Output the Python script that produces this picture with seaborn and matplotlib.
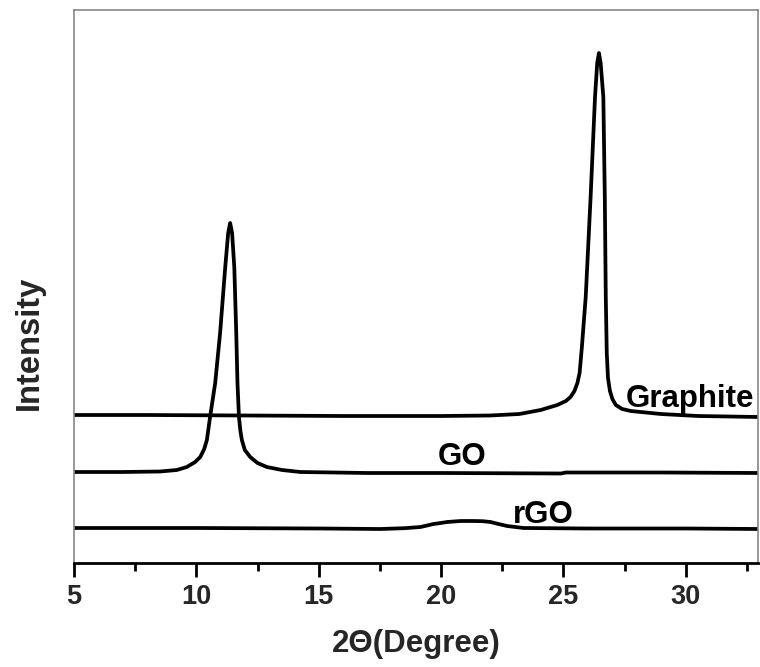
import matplotlib
matplotlib.use("Agg")
import matplotlib.pyplot as plt
import seaborn as sns
import pandas as pd
from matplotlib.ticker import MultipleLocator

# ---- data (intensity in arbitrary units) ----
graphite_x = [5, 8, 12, 16, 20, 22, 23.2, 24.07, 24.75, 25.1, 25.29, 25.45, 25.57,
              25.66, 25.75, 25.91, 26.11, 26.29, 26.38, 26.45, 26.52, 26.63, 26.69,
              26.73, 26.77, 26.82, 26.90, 27.0, 27.14, 27.4, 27.75, 28.98, 30.5, 33]
graphite_y = [148, 148, 147.5, 147, 147, 147.5, 149, 153, 158, 162, 166, 172, 180,
              190, 215, 266, 366, 466, 500, 510, 500, 466, 366,
              266, 210, 185, 172, 164, 158, 154, 152, 149, 147, 146]

go_x = [5, 7, 8.52, 9.2, 9.61, 9.95, 10.16, 10.32, 10.43, 10.56, 10.77, 10.97, 11.18,
        11.30, 11.38, 11.46, 11.55, 11.63, 11.68, 11.74, 11.80, 11.86, 11.98, 12.20,
        12.5, 12.88, 13.5, 14.25, 17, 20, 24.9, 25.1, 29, 33]
go_y = [91, 91, 91.5, 93, 96, 101, 106, 114, 123, 146, 180, 230, 296,
        330, 340, 330, 296, 230, 180, 146, 132, 123, 113, 106,
        100, 96, 93, 91, 90, 90, 89.5, 90.5, 90.5, 90]

rgo_x = [5, 10, 15, 17.52, 18.5, 19.16, 19.69, 19.98, 20.25, 20.8, 21.33, 21.7,
         22.02, 22.35, 22.70, 23.37, 26, 30, 33]
rgo_y = [35, 35, 34.5, 34, 34.8, 36, 39, 40, 41, 42, 42, 41.8,
         41, 39, 37, 35, 34.5, 34.5, 34]

labels = ["Graphite", "GO", "rGO"]
label_x = [30.16, 20.88, 24.19]
label_y = [164, 106, 48]

x_ticks = [5, 10, 15, 20, 25, 30]

# ---- figure ----
sns.set_theme(style="ticks")
plt.rcParams['font.family'] = ['Liberation Sans', 'DejaVu Sans']
plt.rcParams['font.weight'] = 'bold'

fig = plt.figure(figsize=(7.6, 6.67), dpi=100)
ax = fig.add_axes([74 / 760, 104 / 667, 684 / 760, 553 / 667])

frames = [
    pd.DataFrame({"x": graphite_x, "y": graphite_y, "s": "Graphite"}),
    pd.DataFrame({"x": go_x, "y": go_y, "s": "GO"}),
    pd.DataFrame({"x": rgo_x, "y": rgo_y, "s": "rGO"}),
]
for df in frames:
    sns.lineplot(data=df, x="x", y="y", ax=ax, color="black", linewidth=2.7,
                 estimator=None, sort=False)
for ln in ax.get_lines():
    ln.set_solid_joinstyle("round")
    ln.set_solid_capstyle("round")

for t, tx, ty in zip(labels, label_x, label_y):
    ax.text(tx, ty, t, ha="center", va="center", fontsize=22.5, fontweight="bold",
            color="black")

ax.set_xlim(5, 32.95)
ax.set_ylim(0, 553)
ax.set_xticks(x_ticks)
ax.xaxis.set_minor_locator(MultipleLocator(2.5))
ax.set_yticks([])

ax.tick_params(axis="x", which="major", length=10, width=2, color="black",
               labelsize=19.5, pad=5, direction="out")
ax.tick_params(axis="x", which="minor", length=6, width=2, color="black",
               direction="out")
for lab in ax.get_xticklabels():
    lab.set_fontweight("bold")

ax.set_xlabel("2Θ(Degree)", fontsize=22.5, fontweight="bold", labelpad=14)
ax.set_ylabel("Intensity", fontsize=23.5, fontweight="bold")
ax.yaxis.set_label_coords(-0.042, 0.398)

for side in ["left", "top", "right"]:
    ax.spines[side].set_visible(True)
    ax.spines[side].set_color("#888888")
    ax.spines[side].set_linewidth(1.2)
ax.spines["bottom"].set_color("black")
ax.spines["bottom"].set_linewidth(2)

fig.savefig("out.png", dpi=100)
